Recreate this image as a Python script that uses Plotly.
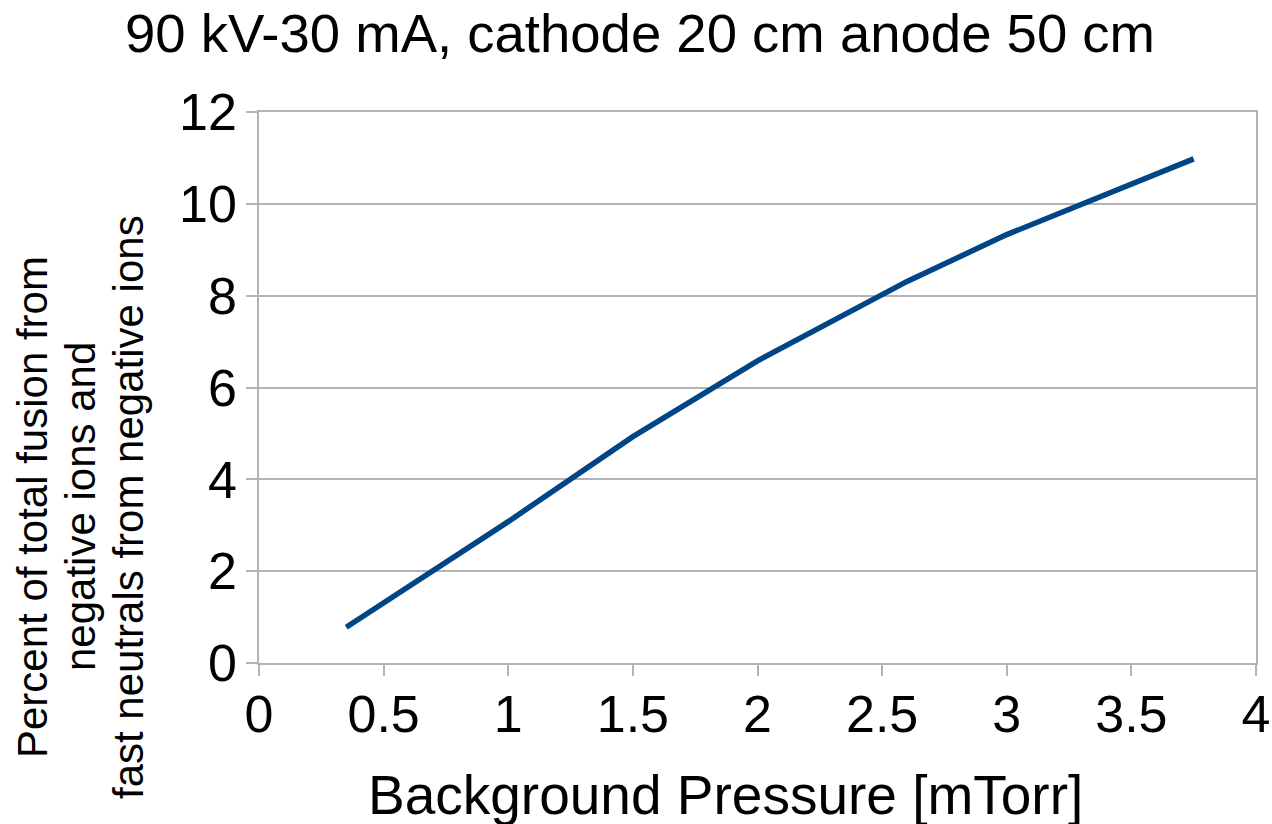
import plotly.graph_objects as go

pressure = [0.35, 0.7, 1.0, 1.5, 2.0, 2.6, 3.0, 3.75]
percent_negative = [0.78, 2.02, 3.08, 4.93, 6.58, 8.31, 9.33, 10.98]

x_ticks = [0, 0.5, 1, 1.5, 2, 2.5, 3, 3.5, 4]
y_ticks = [0, 2, 4, 6, 8, 10, 12]

title_text = "90 kV-30 mA, cathode 20 cm anode 50 cm"
x_title = "Background Pressure [mTorr]"
y_title_lines = ["Percent of total fusion from",
                 "negative ions and",
                 "fast neutrals from negative ions"]

font_name = "Liberation Sans, Arial, sans-serif"
grey = "#b3b3b3"

fig = go.Figure()
fig.add_trace(go.Scatter(x=pressure, y=percent_negative, mode="lines",
                         line=dict(color="#004586", width=5.5), showlegend=False))

fig.update_layout(
    width=1272, height=824,
    margin=dict(l=259, r=16, t=112, b=161),
    paper_bgcolor="white", plot_bgcolor="white",
    font=dict(family=font_name, color="black"),
    title=dict(text=title_text, font=dict(size=54.5, color="black"),
               x=640 / 1272, xref="container", xanchor="center",
               y=1 - 33 / 824, yref="container", yanchor="middle"),
)

fig.update_xaxes(range=[0, 4], tickvals=x_ticks, ticktext=[str(v) for v in x_ticks],
                 automargin=False,
                 showgrid=False, showline=True, linecolor=grey, linewidth=1.5,
                 mirror=True, ticks="outside", ticklen=11, tickcolor=grey, tickwidth=1.5,
                 tickfont=dict(size=52), zeroline=False, ticklabelstandoff=-6)
fig.update_yaxes(range=[0, 12], tickvals=y_ticks, ticktext=[str(v) for v in y_ticks],
                 automargin=False,
                 showgrid=True, gridcolor=grey, gridwidth=1.5,
                 showline=True, linecolor=grey, linewidth=1.5, mirror=True,
                 ticks="outside", ticklen=11, tickcolor=grey, tickwidth=1.5,
                 tickfont=dict(size=52), zeroline=False, ticklabelstandoff=-1)

fig.add_annotation(text=x_title, xref="paper", yref="paper", x=0, y=0,
                   xshift=466, yshift=-99,
                   xanchor="center", yanchor="top", showarrow=False,
                   font=dict(size=55, color="black"))

# y title: three rotated lines, placed one by one to match line spacing
line_centres = [32, 80, 128]
for txt, cx in zip(y_title_lines, line_centres):
    fig.add_annotation(text=txt, xref="paper", yref="paper", x=0, y=0,
                       xshift=cx - 259, yshift=156,
                       xanchor="center", yanchor="middle", showarrow=False,
                       textangle=-90, font=dict(size=42, color="black"))

# drop the page's default body margin so the figure sits at the window corner
fig.write_html("out.html", config={"displayModeBar": False},
               post_script="document.body.style.margin='0';")
